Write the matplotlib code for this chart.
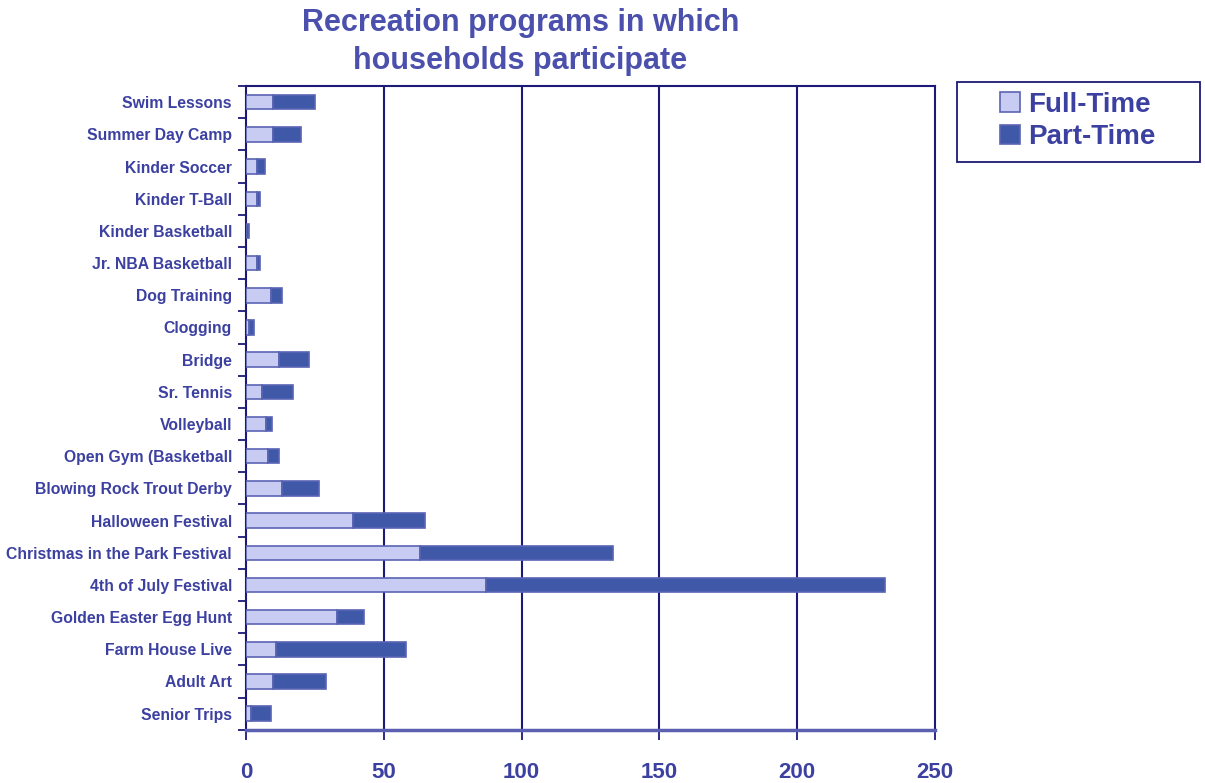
import numpy as np
import matplotlib.pyplot as plt
from matplotlib.ticker import FixedLocator
from matplotlib.patches import Rectangle

categories = ['Swim Lessons', 'Summer Day Camp', 'Kinder Soccer', 'Kinder T-Ball',
              'Kinder Basketball', 'Jr. NBA Basketball', 'Dog Training', 'Clogging',
              'Bridge', 'Sr. Tennis', 'Volleyball', 'Open Gym (Basketball',
              'Blowing Rock Trout Derby', 'Halloween Festival',
              'Christmas in the Park Festival', '4th of July Festival',
              'Golden Easter Egg Hunt', 'Farm House Live', 'Adult Art', 'Senior Trips']
full_time = [10, 10, 4, 4, 0, 4, 9, 1, 12, 6, 7.5, 8, 13, 39, 63, 87, 33, 11, 10, 2]
part_time = [15, 10, 3, 1, 1, 1, 4, 2, 11, 11, 2, 4, 13.5, 26, 70, 145, 10, 47, 19, 7]
xticks = [0, 50, 100, 150, 200, 250]

text_col = '#3c40a0'
grid_col = '#1c1a78'
light = '#c9ccf2'
dark = '#4058a8'
edge = '#5a64b4'

fig = plt.figure(figsize=(12.05, 7.83), dpi=100)
ax = fig.add_axes([0.204, 0.068, 0.572, 0.822])

y = np.arange(len(categories))
ax.barh(y, full_time, height=0.45, color=light, edgecolor=edge, linewidth=1.2,
        label='Full-Time', zorder=3)
ax.barh(y, part_time, left=full_time, height=0.45, color=dark, edgecolor=edge,
        linewidth=1.2, label='Part-Time', zorder=3)

ax.set_xlim(0, 250)
ax.set_ylim(len(categories) - 0.5, -0.5)
ax.set_xticks(xticks)
ax.set_xticklabels([str(t) for t in xticks], fontsize=16, fontweight='bold',
                   color=text_col, family='Liberation Sans')
ax.tick_params(axis='x', direction='inout', length=14, width=1.3, color=grid_col, pad=16)

ax.set_yticks(y)
ax.set_yticklabels(categories, fontsize=11.3, fontweight='bold', color=text_col,
                   family='Liberation Sans')
ax.tick_params(axis='y', which='major', length=0, pad=10)
ax.yaxis.set_minor_locator(FixedLocator(np.arange(-0.5, len(categories), 1)))
ax.tick_params(axis='y', which='minor', length=6, width=1.3, color=grid_col)

for v in xticks[1:-1]:
    ax.axvline(v, color=grid_col, linewidth=1.5, zorder=1)
for s in ax.spines.values():
    s.set_color(grid_col)
    s.set_linewidth(1.5)
ax.spines['bottom'].set_color('#5a5fb0')
ax.spines['bottom'].set_linewidth(2.5)

fig.text(0.432, 0.99, 'Recreation programs in which\nhouseholds participate',
         ha='center', va='top', fontsize=22, fontweight='bold', color='#4a50ac',
         family='Liberation Sans', linespacing=1.35)

# legend box drawn separately so it can be wider than the entries
fig.patches.append(Rectangle((957 / 1205, 1 - 162 / 783), 243 / 1205, 80 / 783,
                             transform=fig.transFigure, fill=False,
                             edgecolor=grid_col, linewidth=1.3))
leg = fig.legend(loc='center', bbox_to_anchor=(1078 / 1205, 1 - 121 / 783),
                 prop={'family': 'Liberation Sans', 'weight': 'bold', 'size': 20},
                 frameon=False, handlelength=0.7, handleheight=0.7,
                 handletextpad=0.3, labelspacing=0.25, borderaxespad=0)
for t in leg.get_texts():
    t.set_color(text_col)

fig.savefig('out.png', dpi=100)
